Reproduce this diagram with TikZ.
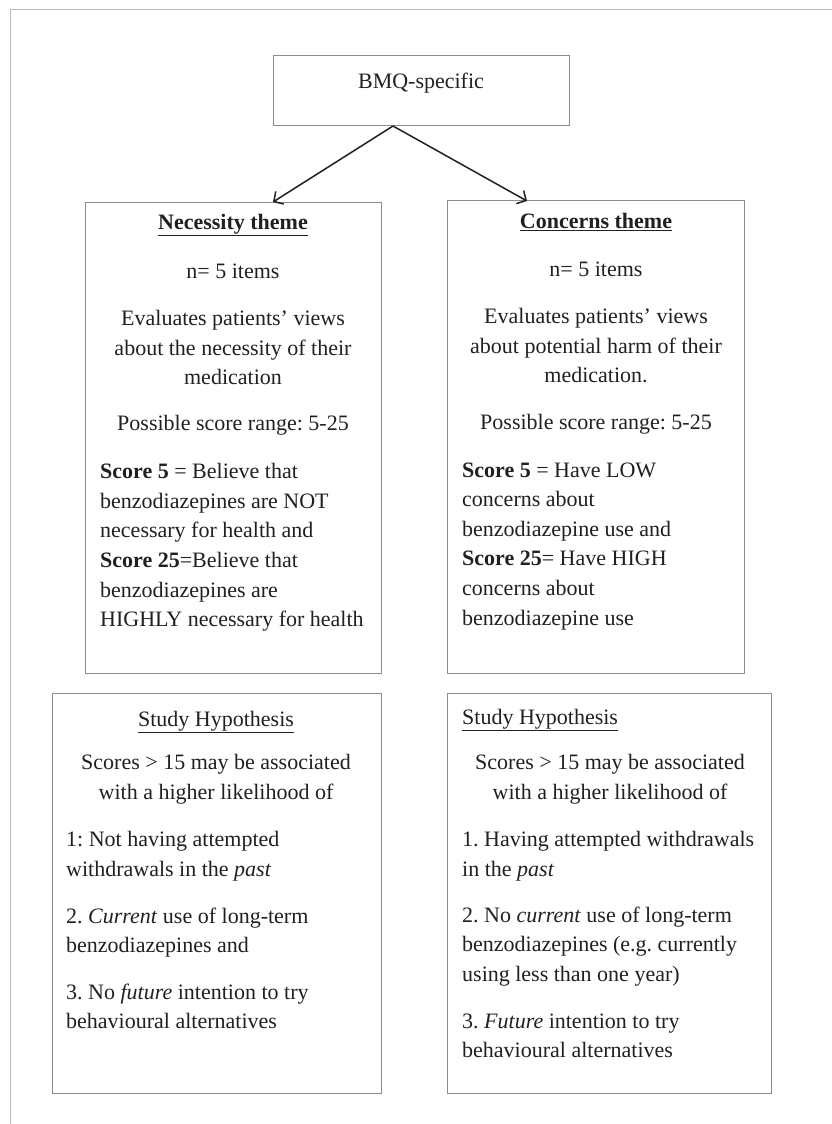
\documentclass[tikz,border=0pt]{standalone}
\usepackage{fontspec}
\setmainfont{Liberation Serif}
\usetikzlibrary{arrows.meta}
\definecolor{boxgray}{RGB}{140,140,140}
\definecolor{framegray}{RGB}{185,185,185}
\definecolor{ink}{RGB}{35,31,32}
\frenchspacing
\begin{document}
\begin{tikzpicture}[x=1pt,y=-1pt,
  box/.style={draw=boxgray, line width=1pt, inner sep=0pt, anchor=north west},
  ctr/.style={anchor=north, align=center, inner sep=0pt, text=ink,
    font=\fontsize{22}{29.6}\selectfont\frenchspacing, execute at begin node=\strut},
  lft/.style={anchor=north west, align=left, inner sep=0pt, text=ink,
    font=\fontsize{22}{29.6}\selectfont\frenchspacing, execute at begin node=\strut},
  arr/.style={draw=ink, line width=1.5pt, -{Straight Barb[length=7pt,width=15pt]}}]
\useasboundingbox (0,0) rectangle (832,1124);
% partial outer frame
\draw[framegray, line width=1pt] (10,1124) -- (10,10) -- (832,10);

% boxes
\node[box, minimum width=296pt, minimum height=70pt] (bmq) at (273,55) {};
\node[box, minimum width=296pt, minimum height=471pt] (nec) at (85,202) {};
\node[box, minimum width=297pt, minimum height=473pt] (con) at (447,200) {};
\node[box, minimum width=329pt, minimum height=400pt] (hyl) at (52,693) {};
\node[box, minimum width=324pt, minimum height=400pt] (hyr) at (447,693) {};

% BMQ
\node[ctr] (bmqt) at (421,68) {BMQ-specific};

% arrows
\coordinate (apex) at ([xshift=120pt]bmq.south west);
\draw[arr] (apex) -- ([xshift=188pt]nec.north west);
\draw[arr] (apex) -- ([xshift=80pt,yshift=-1pt]con.north west);

% Necessity theme
\node[ctr] (nec1) at (233,208.3) {\textbf{\underline{Necessity theme}}};
\node[ctr] (nec2) at (233,257.3) {n= 5 items};
\node[ctr] (nec3) at (233,310.3) {Evaluates patients’ views\\about the necessity of their\\medication};
\node[ctr] (nec4) at (233,409.3) {Possible score range: 5-25};
\node[lft] (nec5) at (100,463.3) {\textbf{Score 5} = Believe that\\benzodiazepines are NOT\\necessary for health and\\\textbf{Score 25}=Believe that\\benzodiazepines are\\HIGHLY necessary for health};

% Concerns theme
\node[ctr] (con1) at (596,207.3) {\textbf{\underline{Concerns theme}}};
\node[ctr] (con2) at (596,255.3) {n= 5 items};
\node[ctr] (con3) at (596,308.3) {Evaluates patients’ views\\about potential harm of their\\medication.};
\node[ctr] (con4) at (596,408.3) {Possible score range: 5-25};
\node[lft] (con5) at (462,462.3) {\textbf{Score 5} = Have LOW\\concerns about\\benzodiazepine use and\\\textbf{Score 25}= Have HIGH\\concerns about\\benzodiazepine use};

% Left hypothesis
\node[ctr] (hl1) at (216,705.3) {\underline{Study Hypothesis}};
\node[ctr] (hl2) at (216,754.3) {Scores > 15 may be associated\\with a higher likelihood of};
\node[lft] (hl3) at (66,831.3) {1: Not having attempted\\withdrawals in the \textit{past}};
\node[lft] (hl4) at (66,907.3) {2. \textit{Current} use of long-term\\benzodiazepines and};
\node[lft] (hl5) at (66,983.3) {3. No \textit{future} intention to try\\behavioural alternatives};

% Right hypothesis
\node[lft] (hr1) at (462,703.3) {\underline{Study Hypothesis}};
\node[ctr] (hr2) at (610,754.3) {Scores > 15 may be associated\\with a higher likelihood of};
\node[lft] (hr3) at (462,831.3) {1. Having attempted withdrawals\\in the \textit{past}};
\node[lft] (hr4) at (462,906.3) {2. No \textit{current} use of long-term\\benzodiazepines (e.g. currently\\using less than one year)};
\node[lft] (hr5) at (462,1013.3) {3. \textit{Future} intention to try\\behavioural alternatives};
\end{tikzpicture}
\end{document}
